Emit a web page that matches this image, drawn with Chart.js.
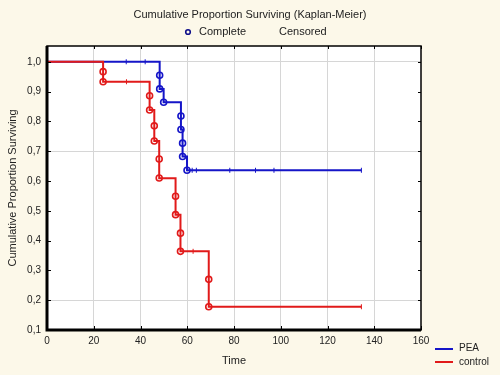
<!DOCTYPE html>
<html>
<head>
<meta charset="utf-8">
<script src="https://cdn.jsdelivr.net/npm/chart.js@4.4.1/dist/chart.umd.min.js"></script>
<style>
  body { margin: 0; background: #fcf8e9; }
  canvas { display: block; }
</style>
</head>
<body>
<canvas id="km" width="500" height="375"></canvas>
<script>
// PEA group: step curve, events (circles), censored (ticks)
const peaTimes = [0, 48.2, 49.9, 57.3, 58.0, 59.9, 134.5];
const peaSurv = [1.0, 0.909, 0.864, 0.773, 0.682, 0.636, 0.636];
const peaEventTimes = [48.2, 48.2, 49.9, 57.3, 57.3, 58.0, 58.0, 59.9];
const peaEventSurv = [0.955, 0.909, 0.864, 0.818, 0.773, 0.727, 0.682, 0.636];
const peaCensorTimes = [33.9, 42.0, 62.1, 63.9, 78.2, 89.2, 97.1, 134.5];
const peaCensorSurv = [1.0, 1.0, 0.636, 0.636, 0.636, 0.636, 0.636, 0.636];

// control group
const controlTimes = [0, 24.0, 43.9, 45.9, 48.0, 55.0, 57.1, 69.2, 134.5];
const controlSurv = [1.0, 0.933, 0.838, 0.734, 0.609, 0.487, 0.364, 0.178, 0.178];
const controlEventTimes = [24.0, 24.0, 43.9, 43.9, 45.9, 45.9, 48.0, 48.0, 55.0, 55.0, 57.1, 57.1, 69.2, 69.2];
const controlEventSurv = [0.967, 0.933, 0.886, 0.838, 0.785, 0.734, 0.674, 0.610, 0.549, 0.487, 0.425, 0.364, 0.270, 0.178];
const controlCensorTimes = [34.0, 62.5, 134.5];
const controlCensorSurv = [0.933, 0.364, 0.178];

// axes
const yTicks = [0.1, 0.2, 0.3, 0.4, 0.5, 0.6, 0.7, 0.8, 0.9, 1.0];
const yGridAt = [0.2, 0.7, 1.0];
const xTicks = [0, 20, 40, 60, 80, 100, 120, 140, 160];

const BLUE = '#1515c8';
const RED = '#e11a1a';
const FONT = '"Liberation Sans", Arial, sans-serif';

const pts = (xs, ys) => xs.map((x, i) => ({ x: x, y: ys[i] }));

function stepSet(xs, ys, color) {
    return { data: pts(xs, ys), showLine: true, stepped: true, borderColor: color,
             borderWidth: 2, pointRadius: 0, fill: false };
}
function eventSet(xs, ys, color) {
    return { data: pts(xs, ys), showLine: false, pointStyle: 'circle', pointRadius: 3,
             borderColor: color, pointBorderColor: color, pointBorderWidth: 1.6,
             pointBackgroundColor: 'rgba(255,255,255,0)' };
}
function censorSet(xs, ys, color) {
    return { data: pts(xs, ys), showLine: false, pointStyle: 'line', pointRotation: 90,
             pointRadius: 2.5, borderColor: color, pointBorderColor: color, pointBorderWidth: 1 };
}

const frame = {
    id: 'frame',
    beforeDraw(chart) {
        const { ctx, chartArea: a } = chart;
        ctx.save();
        ctx.fillStyle = '#fcf8e9';
        ctx.fillRect(0, 0, chart.width, chart.height);
        ctx.fillStyle = '#ffffff';
        ctx.fillRect(a.left, a.top, a.right - a.left, a.bottom - a.top);
        ctx.restore();
    },
    afterDraw(chart) {
        const { ctx, chartArea: a, scales } = chart;
        ctx.save();
        // frame
        ctx.strokeStyle = '#000';
        ctx.lineWidth = 1.5;
        ctx.strokeRect(a.left, a.top, a.right - a.left, a.bottom - a.top);
        ctx.lineWidth = 3;
        ctx.beginPath();
        ctx.moveTo(a.left, a.top);
        ctx.lineTo(a.left, a.bottom);
        ctx.lineTo(a.right, a.bottom);
        ctx.stroke();
        // inward tick marks
        ctx.lineWidth = 1;
        ctx.beginPath();
        yTicks.forEach(v => {
            const y = Math.round(scales.y.getPixelForValue(v)) + 0.5;
            ctx.moveTo(a.left, y); ctx.lineTo(a.left + 4, y);
            ctx.moveTo(a.right, y); ctx.lineTo(a.right - 3, y);
        });
        xTicks.forEach(v => {
            const x = Math.round(scales.x.getPixelForValue(v)) + 0.5;
            ctx.moveTo(x, a.bottom); ctx.lineTo(x, a.bottom - 4);
            ctx.moveTo(x, a.top); ctx.lineTo(x, a.top + 3);
        });
        ctx.stroke();

        // titles
        ctx.fillStyle = '#222';
        ctx.font = '11px ' + FONT;
        ctx.textAlign = 'center';
        ctx.textBaseline = 'middle';
        ctx.fillText('Cumulative Proportion Surviving (Kaplan-Meier)', 250, 15);
        ctx.fillText('Time', (a.left + a.right) / 2, 361);
        ctx.save();
        ctx.translate(13, (a.top + a.bottom) / 2);
        ctx.rotate(-Math.PI / 2);
        ctx.fillText('Cumulative Proportion Surviving', 0, 0);
        ctx.restore();

        // top legend
        ctx.textAlign = 'left';
        ctx.strokeStyle = '#10108a';
        ctx.lineWidth = 1.6;
        ctx.beginPath();
        ctx.arc(188, 32, 2.3, 0, Math.PI * 2);
        ctx.stroke();
        ctx.fillText('Complete', 199, 32);
        ctx.fillText('Censored', 279, 32);

        // bottom-right legend
        ctx.font = '10px ' + FONT;
        ctx.lineWidth = 2;
        ctx.strokeStyle = BLUE;
        ctx.beginPath(); ctx.moveTo(435, 349); ctx.lineTo(453, 349); ctx.stroke();
        ctx.strokeStyle = RED;
        ctx.beginPath(); ctx.moveTo(435, 362); ctx.lineTo(453, 362); ctx.stroke();
        ctx.fillText('PEA', 459, 348);
        ctx.fillText('control', 459, 362);
        ctx.restore();
    }
};

new Chart(document.getElementById('km'), {
    type: 'scatter',
    data: {
        datasets: [
            stepSet(controlTimes, controlSurv, RED),
            eventSet(controlEventTimes, controlEventSurv, RED),
            censorSet(controlCensorTimes, controlCensorSurv, RED),
            stepSet(peaTimes, peaSurv, BLUE),
            eventSet(peaEventTimes, peaEventSurv, BLUE),
            censorSet(peaCensorTimes, peaCensorSurv, BLUE)
        ]
    },
    options: {
        responsive: false,
        animation: false,
        layout: { padding: { top: 46, right: 79, left: 0, bottom: 0 } },
        plugins: { legend: { display: false }, tooltip: { enabled: false }, title: { display: false } },
        scales: {
            x: {
                type: 'linear', min: 0, max: 160,
                afterBuildTicks: s => { s.ticks = xTicks.map(v => ({ value: v })); },
                afterFit: s => { s.height = 45; },
                ticks: { color: '#222', font: { size: 10, family: FONT }, padding: 5, maxRotation: 0 },
                grid: { drawTicks: false, color: c => (c.tick && c.tick.value > 0 && c.tick.value < 160) ? '#d6d6d6' : 'rgba(0,0,0,0)' },
                border: { display: false }
            },
            y: {
                type: 'linear', min: 0.1, max: 1.053,
                afterBuildTicks: s => { s.ticks = yTicks.map(v => ({ value: v })); },
                afterFit: s => { s.width = 47; },
                ticks: {
                    color: '#222', font: { size: 10, family: FONT }, padding: 6,
                    callback: v => v.toFixed(1).replace('.', ',')
                },
                grid: { drawTicks: false, color: c => (c.tick && yGridAt.some(g => Math.abs(g - c.tick.value) < 1e-6)) ? '#d6d6d6' : 'rgba(0,0,0,0)' },
                border: { display: false }
            }
        }
    },
    plugins: [frame]
});
</script>
</body>
</html>
